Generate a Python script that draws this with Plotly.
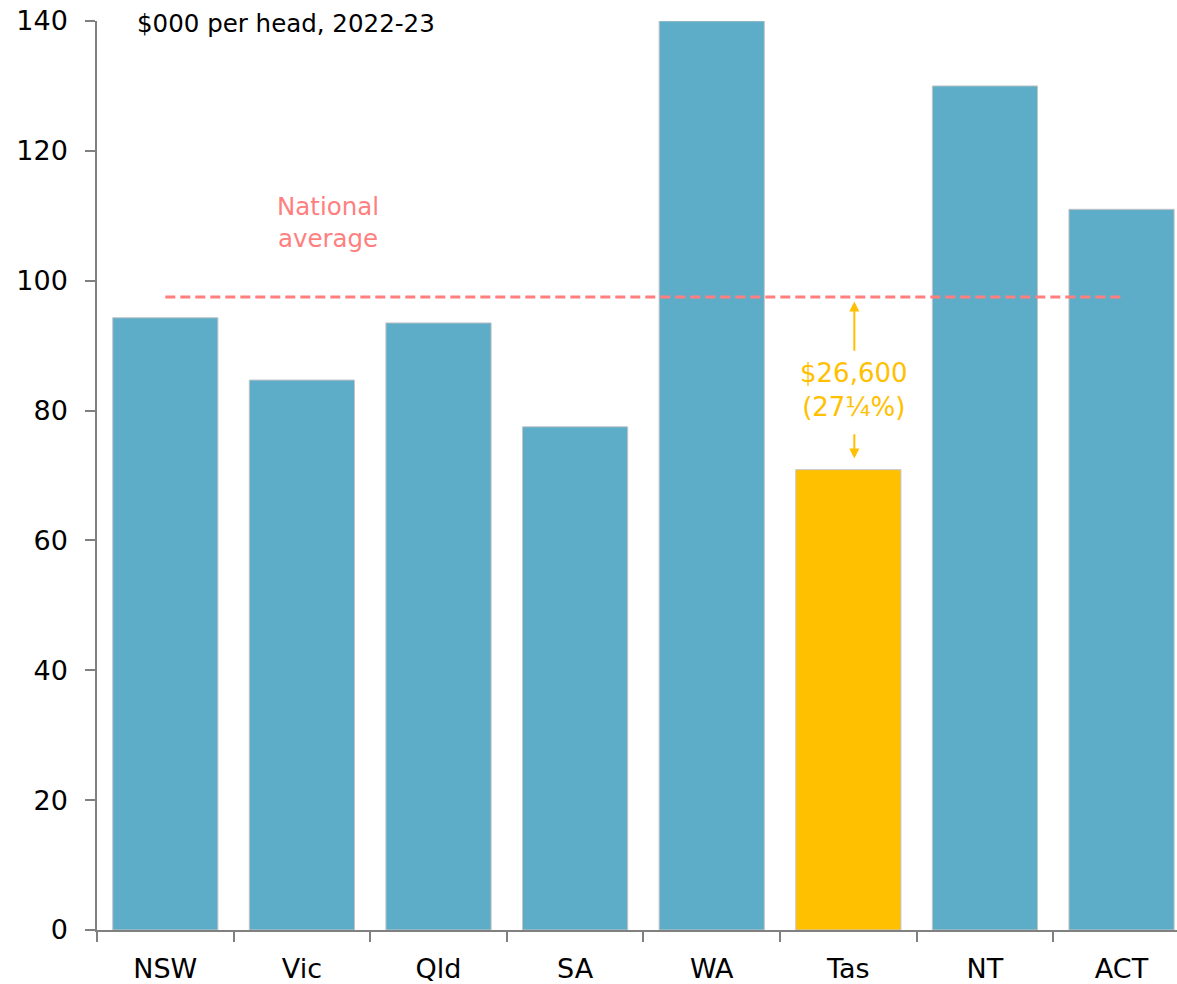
import plotly.graph_objects as go

states = ["NSW", "Vic", "Qld", "SA", "WA", "Tas", "NT", "ACT"]
gsp_per_head = [94.3, 84.7, 93.5, 77.5, 140.0, 70.9, 130.0, 111.0]
national_average = 97.5
tas_gap_label = "$26,600<br>(27¼%)"
title_text = "$000 per head, 2022-23"
y_ticks = [0, 20, 40, 60, 80, 100, 120, 140]

BLUE = "#5DADC8"
GOLD = "#FFC000"
PINK = "#FF7F7F"
FONT = "DejaVu Sans"

colors = [GOLD if s == "Tas" else BLUE for s in states]

fig = go.Figure()
fig.add_trace(go.Bar(
    x=states, y=gsp_per_head,
    marker=dict(color=colors, line=dict(color="#C4C4C4", width=1)),
    width=0.77, showlegend=False, hoverinfo="x+y",
))
fig.add_trace(go.Scatter(
    x=[states[0], states[-1]], y=[national_average, national_average],
    mode="lines", line=dict(color=PINK, width=3, dash="10px,5px"),
    showlegend=False, hoverinfo="skip",
))

# National average label
fig.add_annotation(x=1.19, y=109, xref="x", yref="y", text="National<br>average",
                   showarrow=False, font=dict(family=FONT, size=24.5, color=PINK))
# Tas gap label
fig.add_annotation(x="Tas", y=83.2, xref="x", yref="y", text=tas_gap_label,
                   showarrow=False, xshift=6,
                   font=dict(family=FONT, size=26, color=GOLD))
# arrows
fig.add_annotation(x="Tas", y=96.8, ax="Tas", ay=89.0, xref="x", yref="y",
                   axref="x", ayref="y", text="", showarrow=True, xshift=6,
                   arrowhead=2, arrowsize=1, arrowwidth=2, arrowcolor=GOLD)
fig.add_annotation(x="Tas", y=72.6, ax="Tas", ay=76.6, xref="x", yref="y",
                   axref="x", ayref="y", text="", showarrow=True, xshift=6,
                   arrowhead=2, arrowsize=1, arrowwidth=2, arrowcolor=GOLD)
# Title
fig.add_annotation(x=0.035, y=1, xref="paper", yref="paper", xanchor="left",
                   yanchor="middle", yshift=-2, text=title_text, showarrow=False,
                   font=dict(family=FONT, size=24.5, color="#000000"))

fig.update_layout(
    width=1177, height=984,
    margin=dict(l=97, r=0, t=21, b=54, autoexpand=False),
    paper_bgcolor="white", plot_bgcolor="white",
    bargap=0.23,
    font=dict(family=FONT, color="#000000"),
)
fig.update_xaxes(
    type="category", range=[-0.5, 7.406], automargin=False,
    showline=True, linecolor="#808080", linewidth=1.5,
    ticks="outside", ticklen=10, tickcolor="#808080", tickwidth=1.5,
    tickson="boundaries", showgrid=False,
    tickfont=dict(family=FONT, size=27, color="#000000"),
    ticklabelstandoff=14, ticklabeloverflow="allow",
)
fig.update_yaxes(
    range=[0, 140], tickvals=y_ticks, automargin=False,
    showline=True, linecolor="#808080", linewidth=1.5,
    ticks="outside", ticklen=10, tickcolor="#808080", tickwidth=1.5,
    showgrid=False, zeroline=False,
    tickfont=dict(family=FONT, size=27, color="#000000"),
    ticklabelstandoff=12, ticklabeloverflow="allow",
)

fig.write_html("out.html",
               config={"displayModeBar": False},
               post_script="document.body.style.margin='0';document.body.style.overflow='hidden';")
